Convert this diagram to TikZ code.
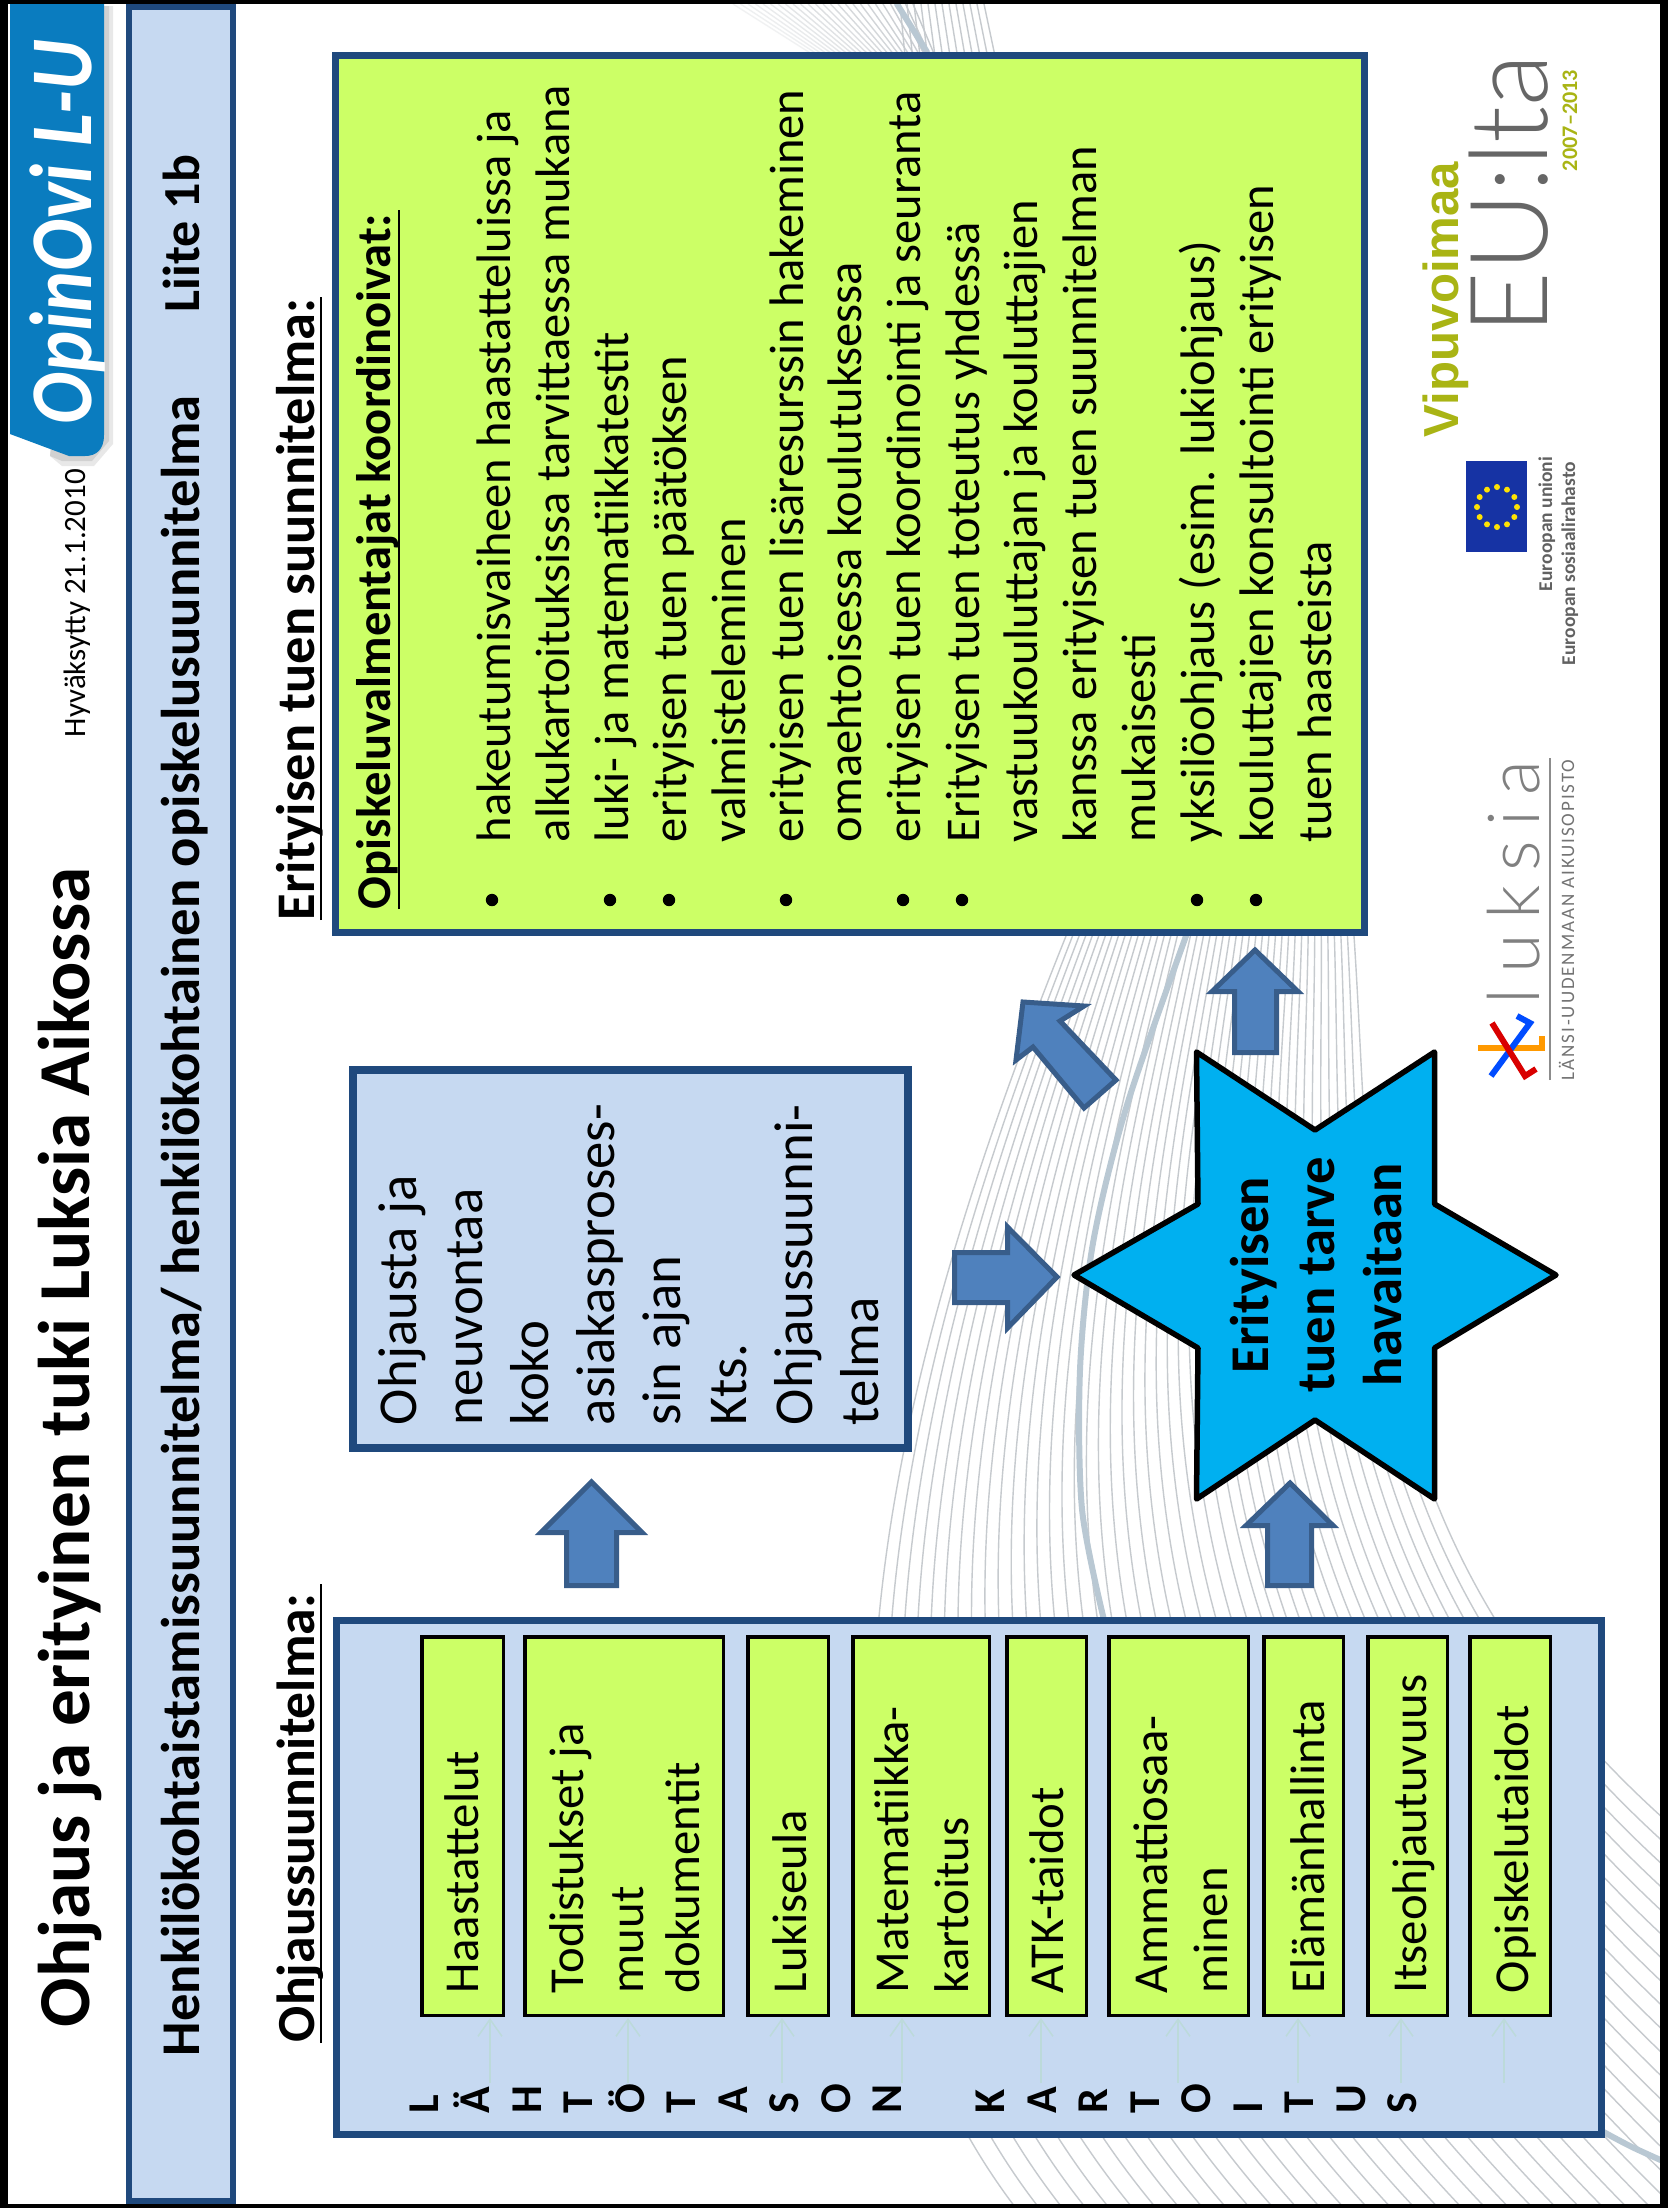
\documentclass[tikz,border=0pt]{standalone}
\usepackage{fontspec}
\usetikzlibrary{arrows.meta}
\setmainfont{Carlito}
\newfontfamily\lightf{Lato Light}
\newfontfamily\lightls[LetterSpace=20]{Lato Light}
\newfontfamily\capls[LetterSpace=10]{Carlito}
\newfontfamily\arialf{Liberation Sans}
\newcommand\fsz[1]{\fontsize{#1}{#1}\selectfont}
\definecolor{darkb}{HTML}{1F497D}
\definecolor{lightb}{HTML}{C6D9F1}
\definecolor{limeg}{HTML}{CCFF66}
\definecolor{arrf}{HTML}{4F81BD}
\definecolor{arrd}{HTML}{385D8A}
\definecolor{stara}{HTML}{00B0F0}
\definecolor{tabb}{HTML}{0A7CBF}
\definecolor{wave}{HTML}{C6CACE}
\definecolor{wavek}{HTML}{B9C8D3}
\definecolor{olive}{HTML}{A9B414}
\definecolor{thinc}{HTML}{BCDADA}
\tikzset{
  rt/.style={rotate=90,anchor=base west,inner sep=0pt,outer sep=0pt},
  rc/.style={rotate=90,anchor=base,inner sep=0pt,outer sep=0pt},
  blockarrow/.style={fill=arrf,draw=arrd,line width=2.5pt,line join=miter,miter limit=10},
  panel/.style={fill=lightb,draw=darkb,inner sep=0pt,outer sep=0pt},
  limepanel/.style={fill=limeg,draw=darkb,inner sep=0pt,outer sep=0pt},
  chip/.style={fill=limeg,draw=black,inner sep=0pt,outer sep=0pt},
  thinarrow/.style={draw=thinc,line width=0.75pt,-{Straight Barb[length=8.5pt,width=12pt]}},
  ul/.style={draw=black,line width=1.25pt}
}
% name, style, x0,y0,x1,y1 (outer, px), line width px
\newcommand\boxn[7]{%
  \pgfmathsetmacro\bw{(#5-#3-#7)*0.5}%
  \pgfmathsetmacro\bh{(#6-#4-#7)*0.5}%
  \pgfmathsetmacro\bx{(#3+#5)/2}%
  \pgfmathsetmacro\by{(#4+#6)/2}%
  \node[#2,line width=#7*0.5pt,minimum width=\bw pt,minimum height=\bh pt] (#1) at (\bx,\by) {};%
}
\begin{document}
\begin{tikzpicture}[x=0.5pt,y=-0.5pt]
\useasboundingbox (0,0) rectangle (1668,2208);
\fill[white] (0,0) rectangle (1668,2208);
% background waves
\begin{scope}
\clip (0,0) rectangle (1668,2208);
\foreach \i in {0,...,44}{
  \pgfmathsetmacro\t{\i/44}
  \pgfmathsetmacro\La{1050*\t}
  \pgfmathsetmacro\ex{\La<640 ? 1060+\La : 1700}
  \pgfmathsetmacro\ey{\La<640 ? 2260 : 2260-(\La-640)}
  \pgfmathsetmacro\sx{1066+288*\t}
  \pgfmathsetmacro\ax{920+455*\t}
  \pgfmathsetmacro\ay{1300-50*\t}
  \pgfmathsetmacro\bx{720+630*\t}
  \pgfmathsetmacro\by{1900-340*\t}
  \draw[wave,line width=0.7pt] (\sx,936) .. controls (\ax,\ay) and (\bx,\by) .. (\ex,\ey);
}
\foreach \i in {0,...,24}{
  \pgfmathsetmacro\op{0.25+0.75*\i/24}
  \draw[wave,line width=0.7pt,opacity=\op] (733+7.5*\i,4) -- (815+5*\i,56);
}
\foreach \i in {0,...,12}{
  \draw[wave,line width=0.7pt] (900+7*\i,4) -- (905+7.5*\i,56);
}
\draw[wavek,line width=3pt,line cap=round] plot[smooth] coordinates {(897,4) (927,52)};
\draw[wavek,line width=3pt] plot[smooth] coordinates {(1190,925) (1127,1105) (1093,1243) (1080,1370) (1082,1509) (1104,1620)};
\draw[wavek,line width=3pt] plot[smooth] coordinates {(1600,2130) (1630,2146) (1665,2162)};
\end{scope}
% frame
\fill[black] (0,0) rectangle (8,2208);
\fill[black] (0,0) rectangle (1668,4);
\fill[black] (1660,0) rectangle (1668,2208);
\fill[black] (0,2204) rectangle (1668,2208);
% logo tab
\fill[black!9] (100,6) -- (113,6) -- (113,444) -- (94,466) -- (62,466) -- (50,456) -- cycle;
\fill[black!18] (100,6) -- (109,6) -- (109,441) -- (92,461) -- (62,461) -- (50,456) -- cycle;
\fill[tabb] (10,4) -- (104,4) -- (104,435) .. controls (104,450) and (96,456) .. (85,456) -- (69,456) -- (10,434) -- cycle;
\node[rt,text=white,font=\fsz{44}\bfseries\itshape] (logo) at (91,424) {\scalebox{0.88}[1]{OpinOvi L-U}};
% band
\boxn{band}{panel}{126}{4}{236}{2204}{6}
\node[rt,font=\fsz{27.3}\bfseries] (bandt) at (199,2056) {Henkilökohtaistamissuunnitelma/ henkilökohtainen opiskelusuunnitelma};
\node[rt,font=\fsz{26}\bfseries] (liite) at (199,312) {Liite 1b};
% title
\node[rt,font=\fsz{36.6}\bfseries] (title) at (90,2027) {Ohjaus ja erityinen tuki Luksia Aikossa};
\node[rt,font=\fsz{15.5}] (hyv) at (85,737) {Hyväksytty 21.1.2010};
% headings
\node[rt,font=\fsz{27.2}\bfseries] (h1) at (314,920) {Erityisen tuen suunnitelma:};
\draw[ul] (321,920) -- (321,297);
\node[rt,font=\fsz{26.8}\bfseries] (h2) at (314,2042) {Ohjaussuunnitelma:};
\draw[ul] (321,2043) -- (321,1584);
% right box
\boxn{rb}{limepanel}{332}{52}{1368}{936}{7}
\node[rt,font=\fsz{24.25}\bfseries] (h3) at (390,909) {Opiskeluvalmentajat koordinoivat:};
\draw[ul] (399,909) -- (399,210);
\foreach \x/\tx in {510/{hakeutumisvaiheen haastatteluissa ja},569/{alkukartoituksissa tarvittaessa mukana},628/{luki- ja matematiikkatestit},686/{erityisen tuen päätöksen},745/{valmisteleminen},803/{erityisen tuen lisäresurssin hakeminen},861/{omaehtoisessa koulutuksessa},920/{erityisen tuen koordinointi ja seuranta},979/{Erityisen tuen toteutus yhdessä},1037/{vastuukouluttajan ja kouluttajien},1096/{kanssa erityisen tuen suunnitelman},1155/{mukaisesti},1214/{yksilöohjaus (esim. lukiohjaus)},1273/{kouluttajien konsultointi erityisen},1331/{tuen haasteista}}{
  \node[rt,font=\fsz{24.25}] (li\x) at (\x,842) {\tx};
}
\foreach \x in {492,610,669,786,903,962,1197,1256}{
  \fill[black] (\x,900) circle (6.2);
}
% middle box
\boxn{mb}{panel}{349}{1066}{912}{1452}{8}
\foreach \x/\tx in {416/{Ohjausta ja},482/{neuvontaa},548/{koko},614/{asiakasproses-},680/{sin ajan},746/{Kts.},812/{Ohjaussuunni-},878/{telma}}{
  \node[rt,font=\fsz{27.4}] (mt\x) at (\x,1425) {\tx};
}
% left box
\boxn{lb}{panel}{333}{1617}{1605}{2138}{7}
\boxn{g1}{chip}{420}{1635}{505}{2017}{3.5}
\boxn{g2}{chip}{523}{1635}{725}{2017}{3.5}
\boxn{g3}{chip}{746}{1635}{830}{2017}{3.5}
\boxn{g4}{chip}{851}{1635}{991}{2017}{3.5}
\boxn{g5}{chip}{1005}{1635}{1088}{2017}{3.5}
\boxn{g6}{chip}{1107}{1635}{1250}{2017}{3.5}
\boxn{g7}{chip}{1262}{1635}{1345}{2017}{3.5}
\boxn{g8}{chip}{1366}{1635}{1449}{2017}{3.5}
\boxn{g9}{chip}{1468}{1635}{1552}{2017}{3.5}
\foreach \n/\x/\tx in {a/478/Haastattelut,b/583.5/{Todistukset ja},c/643/muut,d/699/dokumentit,e/806.5/Lukiseula,f/908/Matematiikka-,g/968/kartoitus,h/1063/ATK-taidot,i/1167.5/Ammattiosaa-,j/1227/minen,k/1324/Elämänhallinta,l/1426/Itseohjautuvuus,m/1528/Opiskelutaidot}{
  \node[rt,font=\fsz{24.4}] (gt\n) at (\x,1993) {\tx};
}
\foreach \i/\ch in {0/L,1/Ä,2/H,3/T,4/Ö,5/T,6/A,7/S,8/O,9/N,11/K,12/A,13/R,14/T,15/O,16/I,17/T,18/U,19/S}{
  \node[rt,font=\fsz{22}\bfseries] (ch\i) at (438+51.5*\i,2113) {\ch};
}
\foreach \n/\x in {1/490,2/628,3/782,4/902,5/1041,6/1178,7/1298,8/1401,9/1504}{
  \coordinate (ts\n) at (\x,2083);
  \coordinate (te\n) at (\x,2018);
  \draw[thinarrow] (ts\n) -- (te\n);
}
% block arrows
\draw[blockarrow] (591.5,1482) -- (642,1532.5) -- (616.5,1532.5) -- (616.5,1585.5) -- (566.5,1585.5) -- (566.5,1532.5) -- (541,1532.5) -- cycle;
\draw[blockarrow] (1255,950) -- (1298,991.5) -- (1276.5,991.5) -- (1276.5,1052.5) -- (1234.5,1052.5) -- (1234.5,991.5) -- (1212,991.5) -- cycle;
\draw[blockarrow] (1290,1483) -- (1333,1525.5) -- (1311.5,1525.5) -- (1311.5,1585.5) -- (1267.5,1585.5) -- (1267.5,1525.5) -- (1246,1525.5) -- cycle;
\draw[blockarrow] (1057,1277) -- (1007.5,1328) -- (1007.5,1302.5) -- (954.5,1302.5) -- (954.5,1252.5) -- (1007.5,1252.5) -- (1007.5,1227) -- cycle;
\draw[blockarrow] (1023,1002) -- (1084,1006) -- (1060,1021) -- (1116,1080) -- (1084,1108) -- (1033,1047) -- (1016,1060) -- cycle;
% star
\draw[fill=stara,draw=black,line width=2.75pt,line join=round] (1196.5,1052) -- (1315,1130) -- (1434.5,1052) -- (1434.5,1204) -- (1556,1275) -- (1434.5,1348) -- (1434.5,1499) -- (1315,1420) -- (1196.5,1499) -- (1198,1348) -- (1074,1275) -- (1198,1204) -- cycle;
\node[rc,font=\fsz{27.3}\bfseries] (s1) at (1268,1275) {Erityisen};
\node[rc,font=\fsz{27.3}\bfseries] (s2) at (1334,1275) {tuen tarve};
\node[rc,font=\fsz{27.3}\bfseries] (s3) at (1401,1275) {havaitaan};
% EU logos
\node[rt,font=\fsz{24.6}\arialf\bfseries,text=olive] (vip) at (1458,437) {Vipuvoimaa};
\node[rt,font=\fsz{54}\lightf,text=black!60] (eu) at (1547,334) {EU:lta};
\node[rt,font=\fsz{11.1}\bfseries,text=olive] (yrs) at (1577,171) {2007–2013};
\fill[darkb!70!blue] (1466,461) rectangle (1527,552);
\foreach \a in {0,30,...,330}{
  \fill[yellow!85!orange] ({1497+20*cos(\a)},{507+20*sin(\a)}) circle (3);
}
\node[rt,font=\fsz{9.75}\bfseries,text=black!62] (eu1) at (1552,591) {Euroopan unioni};
\node[rt,font=\fsz{9.75}\bfseries,text=black!62] (eu2) at (1575,665) {Euroopan sosiaalirahasto};
% Luksia
\node[rt,font=\fsz{36}\lightls,text=black!50] (luk) at (1539,1004) {luksia};
\draw[black!45,line width=0.6pt] (1550,1080) -- (1550,758);
\node[rt,font=\fsz{9.5}\capls,text=black!55] (luk2) at (1574,1080) {LÄNSI-UUDENMAAN AIKUISOPISTO};
\draw[line width=3pt,draw=orange!80!yellow] (1478,1048) -- (1542,1048) -- (1542,1036);
\draw[line width=3pt,draw=blue!70!cyan] (1491,1076) -- (1530,1023) -- (1517,1016);
\draw[line width=3pt,draw=red!85!black] (1492,1023) -- (1525,1076) -- (1536,1069);
\end{tikzpicture}
\end{document}
